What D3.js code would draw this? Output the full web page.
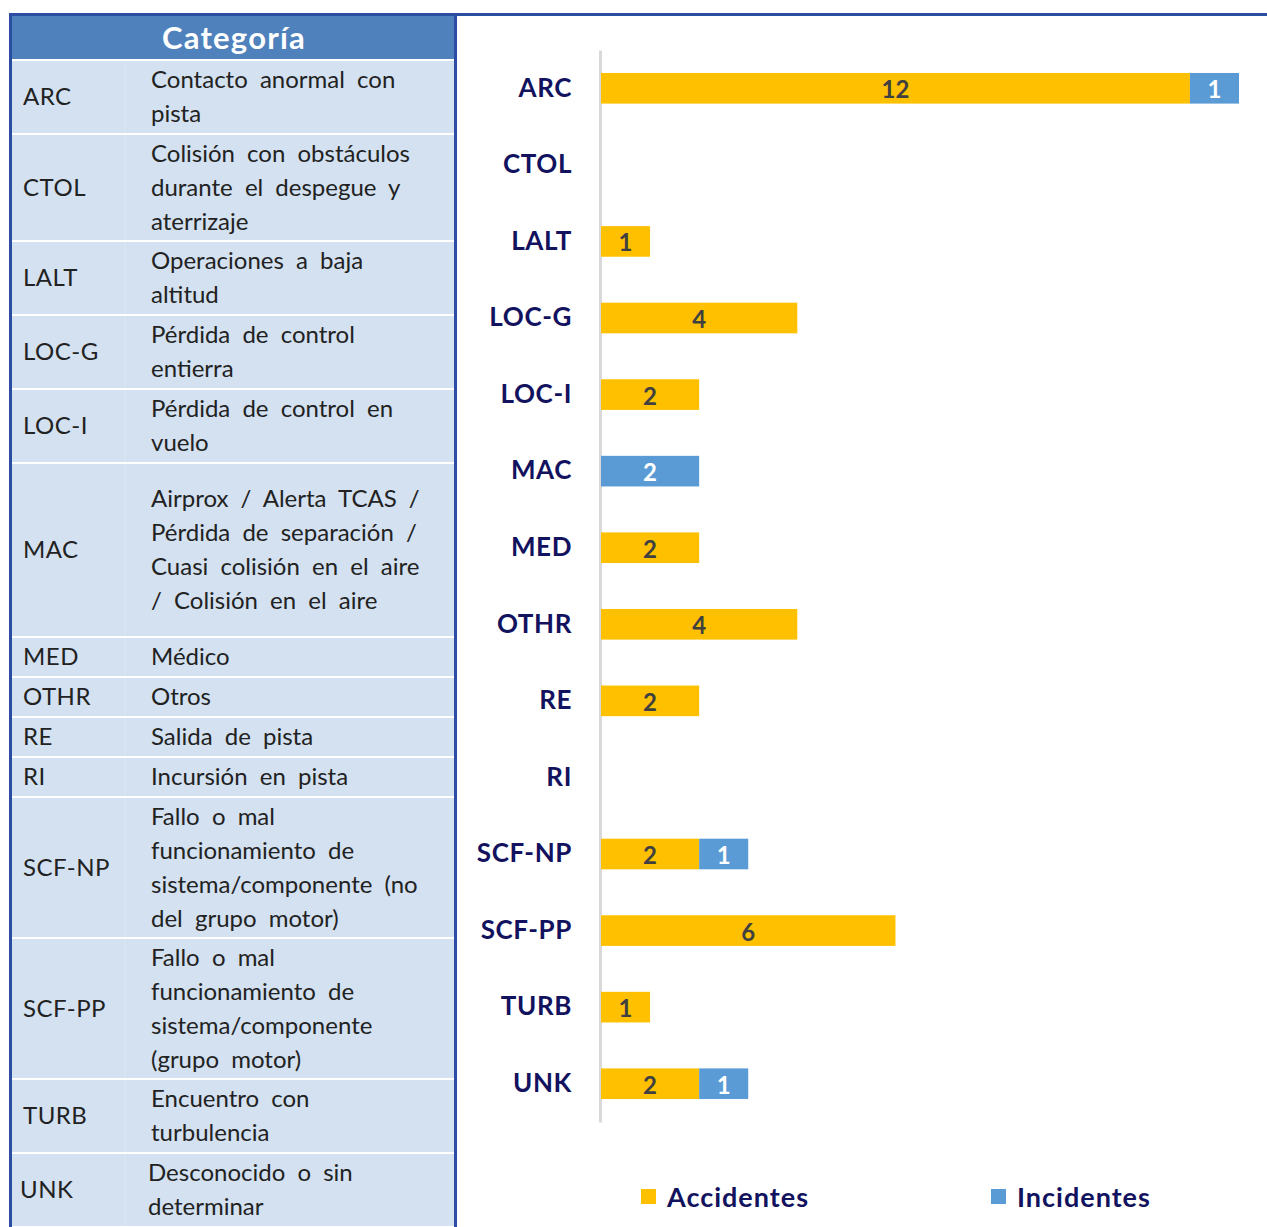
<!DOCTYPE html>
<html>
<head>
<meta charset="utf-8">
<script src="https://cdn.jsdelivr.net/npm/d3@7"></script>
<style>
  body { margin: 0; background: #fff; }
  svg { display: block; }
  .cell-text { font-family: Lato, "Open Sans", sans-serif; font-size: 24px; fill: #222; word-spacing: 6px; }
  .code-text { letter-spacing: 0.5px; }
  .cat-axis text { font-family: Lato, sans-serif; font-weight: bold; font-size: 26px; fill: #12125e; letter-spacing: 0.6px; }
  .val { font-family: Lato, sans-serif; font-weight: bold; font-size: 24px; text-anchor: middle; }
  .legend-text { font-family: Lato, sans-serif; font-weight: bold; font-size: 27px; fill: #12125e; letter-spacing: 1px; }
</style>
</head>
<body>
<svg id="chart"></svg>
<script>
// categories and their descriptions (line breaks as in the source table)
const codes = ['ARC', 'CTOL', 'LALT', 'LOC-G', 'LOC-I', 'MAC', 'MED', 'OTHR', 'RE', 'RI', 'SCF-NP', 'SCF-PP', 'TURB', 'UNK'];
const descriptions = [
  ['Contacto anormal con', 'pista'],
  ['Colisión con obstáculos', 'durante el despegue y', 'aterrizaje'],
  ['Operaciones a baja', 'altitud'],
  ['Pérdida de control', 'entierra'],
  ['Pérdida de control en', 'vuelo'],
  ['Airprox / Alerta TCAS /', 'Pérdida de separación /', 'Cuasi colisión en el aire', '/ Colisión en el aire'],
  ['Médico'],
  ['Otros'],
  ['Salida de pista'],
  ['Incursión en pista'],
  ['Fallo o mal', 'funcionamiento de', 'sistema/componente (no', 'del grupo motor)'],
  ['Fallo o mal', 'funcionamiento de', 'sistema/componente', '(grupo motor)'],
  ['Encuentro con', 'turbulencia'],
  ['Desconocido o sin', 'determinar']
];
const accidentes = [12, 0, 1, 4, 2, 0, 2, 4, 2, 0, 2, 6, 1, 2];
const incidentes = [1, 0, 0, 0, 0, 2, 0, 0, 0, 0, 1, 0, 0, 1];
const seriesNames = ['Accidentes', 'Incidentes'];
const seriesColors = ['#ffc000', '#5b9bd5'];

const width = 1267, height = 1227;
const svg = d3.select('#chart').attr('width', width).attr('height', height);

// ---------- table on the left ----------
const table = { x: 12, w: 442, headerTop: 16, headerH: 43, lineH: 34, codeX: 23, descX: 151 };
const border = '#2d4ca4';

const tableG = svg.append('g');
tableG.append('rect')
    .attr('x', table.x).attr('y', table.headerTop)
    .attr('width', table.w).attr('height', table.headerH)
    .attr('fill', '#4f81bd');
tableG.append('text')
    .attr('x', table.x + table.w / 2 + 1)
    .attr('y', table.headerTop + table.headerH / 2 + 11)
    .attr('text-anchor', 'middle')
    .style('font-family', 'Lato, sans-serif')
    .style('font-weight', 'bold')
    .style('font-size', '31px')
    .style('letter-spacing', '1.2px')
    .style('fill', '#fff')
    .text('Categoría');

// row heights follow the number of text lines (MAC row has extra padding)
let y = table.headerTop + table.headerH;
const rows = codes.map((c, i) => {
  const n = descriptions[i].length;
  const h = Math.max(n * table.lineH + (n > 2 ? 3 : 4), 38) + (c === 'MAC' ? 33 : 0);
  const r = { code: c, lines: descriptions[i], top: y + 2, h: h };
  y += h + 2;
  return r;
});

const rowG = tableG.selectAll('.row')
    .data(rows)
  .join('g')
    .attr('class', 'row')
    .attr('transform', d => `translate(0,${d.top})`);

rowG.append('rect')
    .attr('x', table.x).attr('width', table.w)
    .attr('height', d => d.h)
    .attr('fill', '#d3e1f1');

rowG.append('line')
    .attr('x1', 125).attr('x2', 125)
    .attr('y1', 0).attr('y2', d => d.h)
    .attr('stroke', '#dbe6f3').attr('stroke-width', 1);

rowG.append('text')
    .attr('class', 'cell-text code-text')
    .attr('x', d => d.code === 'UNK' ? table.codeX - 3 : table.codeX)
    .attr('y', d => d.h / 2 + 8)
    .text(d => d.code);

rowG.each(function(d) {
  const n = d.lines.length;
  const y0 = d.h / 2 - (n - 1) * table.lineH / 2 + 8;
  d3.select(this).selectAll('.desc')
      .data(d.lines)
    .join('text')
      .attr('class', 'cell-text desc')
      .attr('x', d.code === 'UNK' ? table.descX - 3 : table.descX)
      .attr('y', (l, j) => y0 + j * table.lineH)
      .text(l => l);
});

// borders
tableG.append('rect').attr('x', 9).attr('y', 13).attr('width', width - 9).attr('height', 3).attr('fill', border);
tableG.append('rect').attr('x', 9).attr('y', 13).attr('width', 3).attr('height', height - 13).attr('fill', border);
tableG.append('rect').attr('x', 454).attr('y', 13).attr('width', 3).attr('height', height - 13).attr('fill', border);

// ---------- stacked bar chart on the right ----------
const xScale = d3.scaleLinear().domain([0, 13]).range([601, 1239]);
const yScale = d3.scaleBand().domain(codes).range([50, 1122]).paddingInner(0.6).paddingOuter(0.3);

const yAxis = d3.axisLeft(yScale).tickSize(0).tickSizeOuter(0).tickPadding(28);
const yAxisG = svg.append('g')
    .attr('class', 'cat-axis')
    .attr('transform', `translate(600,0)`)
    .call(yAxis);
yAxisG.select('.domain').attr('stroke', '#d9d9d9').attr('stroke-width', 3);

const stackData = codes.map((c, i) => ({ code: c, Accidentes: accidentes[i], Incidentes: incidentes[i] }));
const stacked = d3.stack().keys(seriesNames)(stackData);

const layers = svg.append('g').selectAll('.layer')
    .data(stacked)
  .join('g')
    .attr('class', 'layer')
    .attr('fill', (d, i) => seriesColors[i]);

layers.selectAll('rect')
    .data(d => d.filter(p => p[1] - p[0] > 0))
  .join('rect')
    .attr('x', d => xScale(d[0]))
    .attr('y', d => yScale(d.data.code))
    .attr('width', d => xScale(d[1]) - xScale(d[0]))
    .attr('height', yScale.bandwidth());

layers.each(function(layer, li) {
  d3.select(this).selectAll('.val')
      .data(layer.filter(p => p[1] - p[0] > 0))
    .join('text')
      .attr('class', 'val')
      .attr('x', d => (xScale(d[0]) + xScale(d[1])) / 2)
      .attr('y', d => yScale(d.data.code) + yScale.bandwidth() / 2 + 10)
      .style('fill', li === 0 ? '#404040' : '#fff')
      .text(d => d[1] - d[0]);
});

// legend
const legendX = [641, 991];
const legend = svg.append('g').selectAll('.legend')
    .data(seriesNames)
  .join('g')
    .attr('class', 'legend')
    .attr('transform', (d, i) => `translate(${legendX[i]},1189)`);
legend.append('rect').attr('width', 15).attr('height', 15).attr('fill', (d, i) => seriesColors[i]);
legend.append('text').attr('class', 'legend-text').attr('x', 26).attr('y', 18).text(d => d);
</script>
</body>
</html>
